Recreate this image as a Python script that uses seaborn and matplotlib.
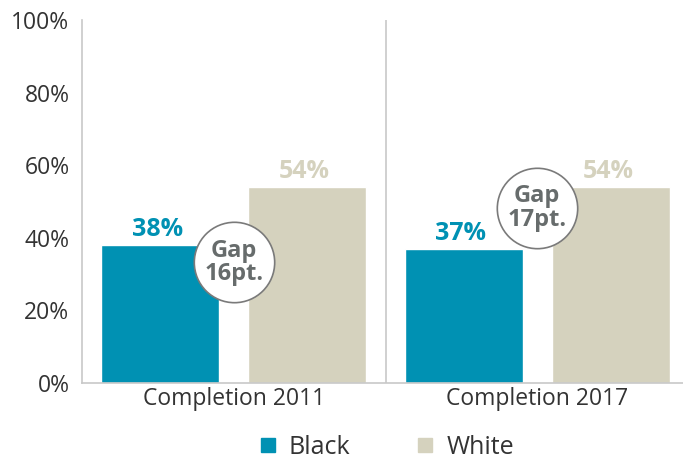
import pandas as pd
import matplotlib
matplotlib.use("Agg")
import matplotlib.pyplot as plt
import seaborn as sns

# data
periods = ["Completion 2011", "Completion 2017"]
black = [38, 37]
white = [54, 54]
gaps = [16, 17]
gap_y = [33.3, 48.2]

teal = "#0091b3"
tan = "#d5d2be"
grey_txt = "#676c6c"

df = pd.DataFrame({
    "period": periods * 2,
    "group": ["Black"] * 2 + ["White"] * 2,
    "value": black + white,
})

sns.set_style("white")
plt.rcParams["font.family"] = ["Open Sans", "DejaVu Sans"]

fig = plt.figure(figsize=(6.83, 4.59), dpi=100)
ax = fig.add_axes([0.12, 0.1656, 0.88, 0.7908])

sns.barplot(data=df, x="period", y="value", hue="group",
            palette=[teal, tan], width=0.97, gap=0.2, ax=ax,
            saturation=1, legend=False)

ax.set_ylim(0, 100)
ax.set_xlim(-0.5, 1.48)
ax.set_yticks(range(0, 101, 20))
ax.set_yticklabels([f"{v}%" for v in range(0, 101, 20)])
ax.tick_params(axis="y", length=0, pad=9, labelsize=16.5, labelcolor="#333333")
ax.tick_params(axis="x", length=0, pad=3, labelsize=16.5, labelcolor="#333333")
ax.set_xlabel("")
ax.set_ylabel("")

for s in ["top", "right"]:
    ax.spines[s].set_visible(False)
for s in ["left", "bottom"]:
    ax.spines[s].set_color("#c8c8c8")
    ax.spines[s].set_linewidth(1.2)
ax.axvline(0.5, color="#c8c8c8", lw=1.2)

# value labels
for i, cont in enumerate(ax.containers):
    col = teal if i == 0 else tan
    for bar in cont:
        h = bar.get_height()
        ax.annotate(f"{h:.0f}%", (bar.get_x() + bar.get_width() / 2, h),
                    xytext=(-2, 2), textcoords="offset points",
                    ha="center", va="bottom", fontsize=18,
                    fontweight="bold", color=col)

# gap circles
ax.scatter([0, 1], gap_y, s=3350, facecolor="white", edgecolor="#7a7a7a",
           linewidth=1.2, zorder=5, clip_on=False)
for i, g in enumerate(gaps):
    ax.text(i, gap_y[i], f"Gap\n{g}pt.", ha="center", va="center",
            fontsize=17, fontweight="bold", color=grey_txt, zorder=6,
            linespacing=0.95)

# legend
handles = [plt.Line2D([], [], marker="s", ls="", color=c, markersize=10.5)
           for c in [teal, tan]]
fig.legend(handles, ["Black", "White"], loc="center", ncol=2,
           bbox_to_anchor=(0.565, 0.026), frameon=False, fontsize=18,
           handlelength=0.8, handletextpad=0.45, columnspacing=2.6,
           labelcolor="#333333")

fig.savefig("out.png", dpi=100)
